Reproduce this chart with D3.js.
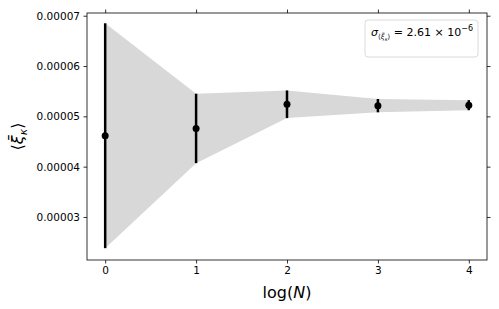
<!DOCTYPE html>
<html>
<head>
<meta charset="UTF-8">
<title>Convergence</title>
<style>
  body { margin: 0; background: #fff; }
  svg { display: block; font-family: "DejaVu Sans", sans-serif; }
  .axis path, .axis line { stroke: #000; stroke-width: 0.8; }
  .axis text { font-size: 10.5px; fill: #000; font-family: "DejaVu Sans", sans-serif; }
</style>
</head>
<body>
<svg width="499" height="309"></svg>
<script src="https://cdn.jsdelivr.net/npm/d3@7"></script>
<script>
const logN = [0, 1, 2, 3, 4];
const meanXi = [4.615e-5, 4.76e-5, 5.24e-5, 5.213e-5, 5.222e-5];
const errXi = [2.235e-5, 0.69e-5, 0.275e-5, 0.133e-5, 0.1e-5];
const yTicks = [3e-5, 4e-5, 5e-5, 6e-5, 7e-5];
const xTicks = [0, 1, 2, 3, 4];

const svg = d3.select("svg"),
    margin = { top: 13, right: 12, bottom: 49, left: 87 },
    width = +svg.attr("width") - margin.left - margin.right,
    height = +svg.attr("height") - margin.top - margin.bottom,
    x = d3.scaleLinear().domain([-0.2, 4.2]).range([0, width]),
    y = d3.scaleLinear().domain([2.145e-5, 7.054e-5]).range([height, 0]),
    g = svg.append("g").attr("transform", `translate(${margin.left},${margin.top})`);

const data = logN.map((n, i) => ({ n, m: meanXi[i], e: errXi[i] }));

// shaded band
g.append("path")
    .datum(data)
    .attr("fill", "#d8d8d8")
    .attr("d", d3.area().x(d => x(d.n)).y0(d => y(d.m - d.e)).y1(d => y(d.m + d.e)));

// error bars
g.selectAll(".err")
    .data(data)
    .enter().append("line")
    .attr("x1", d => x(d.n)).attr("x2", d => x(d.n))
    .attr("y1", d => y(d.m - d.e)).attr("y2", d => y(d.m + d.e))
    .attr("stroke", "#000").attr("stroke-width", 2.5);

g.selectAll(".dot")
    .data(data)
    .enter().append("circle")
    .attr("cx", d => x(d.n)).attr("cy", d => y(d.m))
    .attr("r", 3.5).attr("fill", "#000");

// axes, ticks on all sides
const fmt = d3.format(".5f");
g.append("g").attr("class", "axis").attr("transform", `translate(0,${height})`)
    .call(d3.axisBottom(x).tickValues(xTicks).tickSize(3.5).tickPadding(3.5).tickFormat(d3.format("d")));
g.append("g").attr("class", "axis")
    .call(d3.axisTop(x).tickValues(xTicks).tickSize(3.5).tickFormat(""));
g.append("g").attr("class", "axis")
    .call(d3.axisLeft(y).tickValues(yTicks).tickSize(3.5).tickPadding(3.5).tickFormat(fmt));
g.append("g").attr("class", "axis").attr("transform", `translate(${width},0)`)
    .call(d3.axisRight(y).tickValues(yTicks).tickSize(3.5).tickFormat(""));
g.selectAll(".axis .domain").remove();
g.append("rect").attr("width", width).attr("height", height)
    .attr("fill", "none").attr("stroke", "#000").attr("stroke-width", 0.8);

// axis labels
const xl = svg.append("text")
    .attr("x", margin.left + x(2)).attr("y", 298)
    .attr("text-anchor", "middle").style("font-size", "16px");
xl.append("tspan").text("log(");
xl.append("tspan").style("font-style", "italic").text("N");
xl.append("tspan").text(")");

const yl = svg.append("text")
    .attr("transform", `translate(23,${margin.top + height / 2}) rotate(-90)`)
    .attr("text-anchor", "middle").style("font-size", "16px");
yl.append("tspan").text("⟨");
yl.append("tspan").style("font-style", "italic").text("ξ\u0304");
yl.append("tspan").style("font-style", "italic").style("font-size", "11px").attr("dy", 4).text("κ");
yl.append("tspan").attr("dy", -4).text("⟩");

// legend box
const lg = svg.append("g").attr("transform", "translate(365,20)");
lg.append("rect").attr("width", 113).attr("height", 37).attr("rx", 3)
    .attr("fill", "#fff").attr("stroke", "#d0d0d0").attr("stroke-width", 0.8);
const lt = lg.append("text").attr("x", 6).attr("y", 16).style("font-size", "11px");
lt.append("tspan").style("font-style", "italic").text("σ");
lt.append("tspan").attr("dy", 3).style("font-size", "7px").text("⟨");
lt.append("tspan").style("font-size", "7px").style("font-style", "italic").text("ξ\u0304");
lt.append("tspan").attr("dy", 1.5).style("font-size", "5px").style("font-style", "italic").text("κ");
lt.append("tspan").attr("dy", -1.5).style("font-size", "7px").text("⟩");
lt.append("tspan").attr("dy", -3).text(" = 2.61 × 10");
lt.append("tspan").attr("dy", -5).style("font-size", "8px").text("−6");
</script>
</body>
</html>
